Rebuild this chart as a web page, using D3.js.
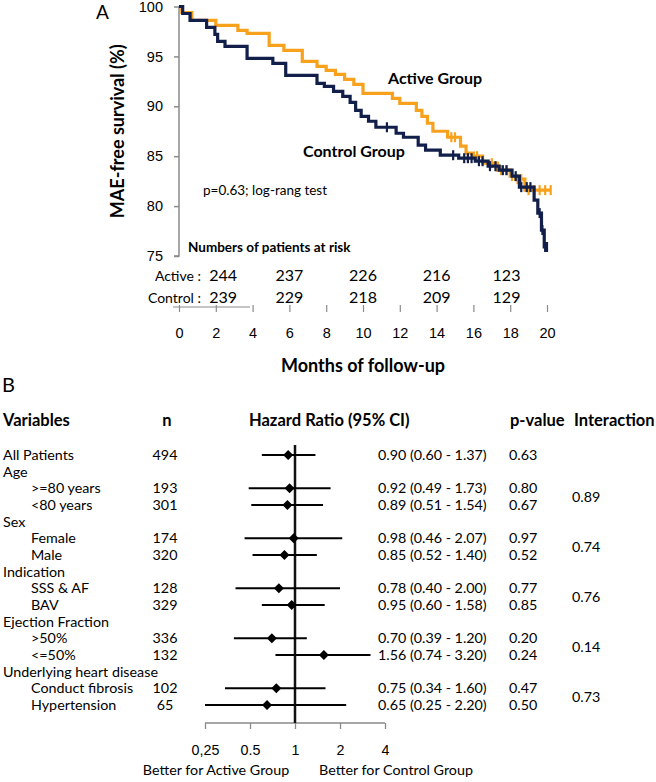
<!DOCTYPE html>
<html><head><meta charset="utf-8">
<script src="https://cdn.jsdelivr.net/npm/d3@7"></script>
<style>
html,body{margin:0;padding:0;background:#fff;}
svg{display:block;font-family:Lato,"Open Sans",sans-serif;}
</style></head>
<body>
<svg id="chart" width="656" height="782"></svg>
<script>
// ---------- Panel A data ----------
const yTicks = [75, 80, 85, 90, 95, 100];
const xTicks = [0, 2, 4, 6, 8, 10, 12, 14, 16, 18, 20];
// Kaplan-Meier steps: [month, survival % after the event]
const activeSteps = [[0,100],[0.15,99.4],[0.7,98.6],[2.0,98.1],[3.2,97.6],[3.7,97.3],[4.9,96.1],[5.7,95.6],[6.7,94.5],[7.5,94.0],[8.0,93.6],[8.5,93.2],[9.0,92.7],[9.5,92.2],[10.0,91.3],[11.6,90.8],[12.0,90.3],[12.9,89.6],[13.2,89.0],[13.5,88.3],[13.8,87.5],[14.6,86.9],[15.3,86.0],[15.6,85.3],[16.0,85.0],[16.5,84.3],[17.3,83.6],[18.0,83.0],[18.3,82.7],[18.8,81.6],[20.2,81.6]];
const controlSteps = [[0,100],[0.2,99.3],[0.6,98.6],[1.5,97.9],[1.95,97.2],[2.1,96.5],[2.5,96.0],[3.7,94.8],[5.1,94.3],[5.8,93.1],[7.5,92.3],[7.9,92.0],[8.4,91.5],[8.9,91.0],[9.3,90.4],[9.6,89.6],[9.9,89.0],[10.3,88.5],[10.7,87.9],[11.8,87.3],[12.2,86.9],[13.0,86.1],[13.4,85.6],[14.2,85.1],[15.2,84.8],[16.1,84.5],[16.8,84.0],[17.4,83.6],[18.1,83.0],[18.5,81.9],[19.3,80.6],[19.5,79.3],[19.7,77.6],[19.85,75.9],[20.0,75.9]];
const activeCensor = [14.8, 15.0, 16.2, 17.0, 17.5, 17.8, 18.1, 18.4, 18.6, 19.0, 19.3, 19.6, 19.9, 20.2];
const controlCensor = [11.3, 14.9, 15.5, 15.7, 15.9, 16.3, 16.5, 16.9, 17.2, 17.6, 17.8, 18.3, 18.6, 18.9, 19.1, 19.6, 19.75, 19.9, 20.0];
const riskTimes = [2.4, 6, 10, 14, 17.8];
const riskActive = [244, 237, 226, 216, 123];
const riskControl = [239, 229, 218, 209, 129];

// ---------- Panel B data ----------
const rowLabels = ["All Patients","Age",">=80 years","<80 years","Sex","Female","Male","Indication","SSS & AF","BAV","Ejection Fraction",">50%","<=50%","Underlying heart disease","Conduct fibrosis","Hypertension"];
const rowIndent = [0,0,1,1,0,1,1,0,1,1,0,1,1,0,1,1];
const rowN = [494,null,193,301,null,174,320,null,128,329,null,336,132,null,102,65];
const hr = [0.90,null,0.92,0.89,null,0.98,0.85,null,0.78,0.95,null,0.70,1.56,null,0.75,0.65];
const ciLow = [0.60,null,0.49,0.51,null,0.46,0.52,null,0.40,0.60,null,0.39,0.74,null,0.34,0.25];
const ciHigh = [1.37,null,1.73,1.54,null,2.07,1.40,null,2.00,1.58,null,1.20,3.20,null,1.60,2.20];
const pValues = ["0.63",null,"0.80","0.67",null,"0.97","0.52",null,"0.77","0.85",null,"0.20","0.24",null,"0.47","0.50"];
const interactionValues = ["0.89","0.74","0.76","0.14","0.73"];
const interactionRows = [[2,3],[5,6],[8,9],[11,12],[14,15]];
const hrTickValues = [0.25, 0.5, 1, 2, 4];
const hrTickLabels = ["0,25", "0.5", "1", "2", "4"];

const ORANGE = "#f7a11c", NAVY = "#111f4a", GRAY = "#8a8a8a";
const svg = d3.select("#chart");

// ================= Panel A =================
const x = d3.scaleLinear().domain([0, 20]).range([179, 547]);
const y = d3.scaleLinear().domain([75, 100]).range([256, 6.5]);

svg.append("text").attr("x", 96).attr("y", 19).attr("font-size", 19).text("A");

const yAxis = svg.append("g").attr("transform", `translate(${x(0)},0)`)
  .call(d3.axisLeft(y).tickValues(yTicks).tickSize(5).tickPadding(11));
yAxis.selectAll("path,line").attr("stroke", GRAY).attr("stroke-width", 1.5);
yAxis.selectAll("text").attr("font-size", 14.5).attr("fill", "#000");
yAxis.select(".domain").attr("d", `M-5,${y(75)}H0V${y(100)}`);

svg.append("text")
  .attr("transform", `translate(124,${(y(75)+y(100))/2}) rotate(-90)`)
  .attr("text-anchor", "middle").attr("font-size", 18).attr("font-weight", "bold")
  .text("MAE-free survival (%)");

// X axis (ticks only, plus short separator line)
const xAxis = svg.append("g").attr("transform", "translate(0,305)")
  .call(d3.axisBottom(x).tickValues(xTicks).tickSize(7).tickPadding(16));
xAxis.select(".domain").remove();
xAxis.selectAll("line").attr("stroke", GRAY).attr("stroke-width", 1.2);
xAxis.selectAll("text").attr("font-size", 14.5).attr("fill", "#000");
svg.append("line").attr("x1", 173).attr("x2", 250).attr("y1", 307).attr("y2", 307)
  .attr("stroke", GRAY).attr("stroke-width", 1.2);
svg.append("text").attr("x", 363).attr("y", 372).attr("text-anchor", "middle")
  .attr("font-size", 18).attr("font-weight", "bold").text("Months of follow-up");

const stepLine = d3.line().x(d => x(d[0])).y(d => y(d[1])).curve(d3.curveStepAfter);
function valueAt(steps, t) {
  let v = steps[0][1];
  for (const s of steps) { if (s[0] <= t) v = s[1]; }
  return v;
}
function drawCurve(steps, censor, color) {
  svg.append("path").datum(steps).attr("d", stepLine)
    .attr("fill", "none").attr("stroke", color).attr("stroke-width", 3.2);
  svg.append("g").selectAll("line").data(censor).join("line")
    .attr("x1", d => x(d)).attr("x2", d => x(d))
    .attr("y1", d => y(valueAt(steps, d)) - 5).attr("y2", d => y(valueAt(steps, d)) + 5)
    .attr("stroke", color).attr("stroke-width", 2.2);
}
drawCurve(activeSteps, activeCensor, ORANGE);
drawCurve(controlSteps, controlCensor, NAVY);

svg.append("text").attr("x", 388).attr("y", 84).attr("font-size", 16).attr("font-weight", "bold").text("Active Group");
svg.append("text").attr("x", 303).attr("y", 157).attr("font-size", 16).attr("font-weight", "bold").text("Control Group");
svg.append("text").attr("x", 203).attr("y", 195).attr("font-size", 13.5).text("p=0.63; log-rang test");
svg.append("text").attr("x", 188).attr("y", 252).attr("font-size", 13.5).attr("font-weight", "bold").text("Numbers of patients at risk");

svg.append("text").attr("x", 201).attr("y", 281).attr("text-anchor", "end").attr("font-size", 14).text("Active :");
svg.append("text").attr("x", 201).attr("y", 303).attr("text-anchor", "end").attr("font-size", 14).text("Control :");
svg.append("g").selectAll("text").data(riskActive).join("text")
  .attr("x", (d, i) => x(riskTimes[i])).attr("y", 281).attr("text-anchor", "middle")
  .attr("font-size", 16).text(d => d);
svg.append("g").selectAll("text").data(riskControl).join("text")
  .attr("x", (d, i) => x(riskTimes[i])).attr("y", 303).attr("text-anchor", "middle")
  .attr("font-size", 16).text(d => d);

// ================= Panel B =================
svg.append("text").attr("x", 2).attr("y", 392).attr("font-size", 20).text("B");
const hx = d3.scaleLog().base(2).domain([0.25, 4]).range([205, 385]);
const rowY = d3.scaleLinear().domain([0, 15]).range([455, 705]);

const headY = 426;
const heads = [["Variables", 3, "start"], ["n", 167, "middle"], ["Hazard Ratio (95% CI)", 249, "start"], ["p-value", 510, "start"], ["Interaction", 574, "start"]];
svg.append("g").selectAll("text").data(heads).join("text")
  .attr("x", d => d[1]).attr("y", headY).attr("text-anchor", d => d[2])
  .attr("font-size", 16.5).attr("font-weight", "bold").text(d => d[0]);

const rows = svg.append("g");
rowLabels.forEach((lab, i) => {
  const yy = rowY(i) + 5;
  rows.append("text").attr("x", rowIndent[i] ? 31 : 3).attr("y", yy).attr("font-size", 14.3).text(lab);
  if (rowN[i] != null) {
    rows.append("text").attr("x", 165).attr("y", yy).attr("text-anchor", "middle").attr("font-size", 14.3).text(rowN[i]);
  }
  if (hr[i] != null) {
    rows.append("text").attr("x", 378).attr("y", yy).attr("font-size", 14.3)
      .text(`${hr[i].toFixed(2)} (${ciLow[i].toFixed(2)} - ${ciHigh[i].toFixed(2)})`);
    rows.append("text").attr("x", 509).attr("y", yy).attr("font-size", 14.3).text(pValues[i]);
  }
});
interactionValues.forEach((v, k) => {
  const [a, b] = interactionRows[k];
  svg.append("text").attr("x", 572).attr("y", (rowY(a) + rowY(b)) / 2 + 5).attr("font-size", 14.3).text(v);
});

// axis
const hAxis = svg.append("g").attr("transform", "translate(0,723)")
  .call(d3.axisBottom(hx).tickValues(hrTickValues).tickFormat((d, i) => hrTickLabels[i]).tickSize(6).tickPadding(16));
hAxis.selectAll("path,line").attr("stroke", GRAY).attr("stroke-width", 1.3);
hAxis.select(".domain").attr("d", `M${hx(0.25)},0H${hx(4)}`);
hAxis.selectAll("text").attr("font-size", 14.3).attr("fill", "#000");

// reference line
svg.append("line").attr("x1", hx(1)).attr("x2", hx(1)).attr("y1", 445).attr("y2", 723)
  .attr("stroke", "#111").attr("stroke-width", 2.5);

// CI lines and diamonds
const idx = d3.range(rowLabels.length).filter(i => hr[i] != null);
svg.append("g").selectAll("line").data(idx).join("line")
  .attr("x1", i => hx(ciLow[i])).attr("x2", i => hx(ciHigh[i]))
  .attr("y1", i => rowY(i)).attr("y2", i => rowY(i))
  .attr("stroke", "#000").attr("stroke-width", 2);
svg.append("g").selectAll("path").data(idx).join("path")
  .attr("d", i => { const cx = hx(hr[i]), cy = rowY(i), r = 5; return `M${cx},${cy-r}L${cx+r},${cy}L${cx},${cy+r}L${cx-r},${cy}Z`; })
  .attr("fill", "#000");

svg.append("text").attr("x", 216).attr("y", 775).attr("text-anchor", "middle").attr("font-size", 14.3).text("Better for Active Group");
svg.append("text").attr("x", 396).attr("y", 775).attr("text-anchor", "middle").attr("font-size", 14.3).text("Better for Control Group");
</script>
</body></html>
